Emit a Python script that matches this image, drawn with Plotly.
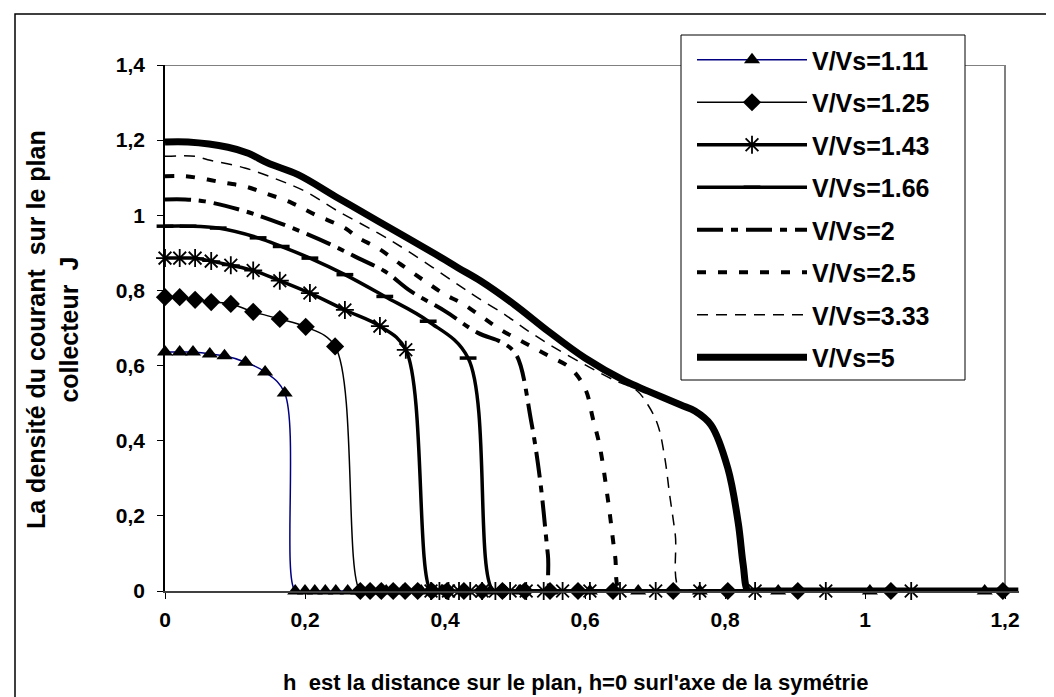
import plotly.graph_objects as go

# ---- data ----
h_111 = [0, 0.021, 0.040, 0.064, 0.085, 0.115, 0.143, 0.171, 0.186, 0.200, 0.214, 0.229, 0.244, 0.261, 0.276,
         0.295, 0.316, 0.340, 0.366, 0.395, 0.428, 0.465, 0.506, 0.552, 0.607, 0.676, 0.764, 0.876, 1.007, 1.171]
J_111 = [0.636, 0.636, 0.636, 0.631, 0.626, 0.609, 0.583, 0.527, 0, 0, 0, 0, 0, 0, 0,
         0, 0, 0, 0, 0, 0, 0, 0, 0, 0, 0, 0, 0, 0, 0]

h_125 = [0, 0.021, 0.043, 0.066, 0.094, 0.126, 0.164, 0.201, 0.243, 0.279, 0.293, 0.309, 0.326, 0.343, 0.361,
         0.381, 0.403, 0.427, 0.453, 0.482, 0.514, 0.550, 0.590, 0.640, 0.726, 0.804, 0.904, 1.037, 1.197]
J_125 = [0.782, 0.782, 0.775, 0.769, 0.764, 0.743, 0.724, 0.703, 0.651, 0, 0, 0, 0, 0, 0,
         0, 0, 0, 0, 0, 0, 0, 0, 0, 0, 0, 0, 0, 0]

h_143 = [0, 0.021, 0.043, 0.066, 0.094, 0.126, 0.164, 0.207, 0.257, 0.307, 0.344, 0.380, 0.392, 0.405, 0.420,
         0.436, 0.453, 0.472, 0.493, 0.516, 0.541, 0.568, 0.607, 0.650, 0.701, 0.764, 0.843, 0.944, 1.066]
J_143 = [0.886, 0.886, 0.886, 0.878, 0.867, 0.853, 0.826, 0.793, 0.748, 0.705, 0.642, 0, 0, 0, 0,
         0, 0, 0, 0, 0, 0, 0, 0, 0, 0, 0, 0, 0, 0]

h_166 = [0, 0.033, 0.076, 0.133, 0.166, 0.207, 0.257, 0.314, 0.376, 0.433, 0.469, 0.490, 0.512, 0.536, 0.562,
         0.592, 0.626, 0.665, 0.710, 0.762, 0.822, 0.892, 0.972, 1.064, 1.170]
J_166 = [0.971, 0.971, 0.966, 0.940, 0.917, 0.886, 0.842, 0.784, 0.718, 0.620, 0, 0, 0, 0, 0,
         0, 0, 0, 0, 0, 0, 0, 0, 0, 0]

h_2 = [0, 0.029, 0.057, 0.114, 0.151, 0.194, 0.237, 0.276, 0.314, 0.351, 0.400, 0.447, 0.483, 0.502,
       0.523, 0.536, 0.547, 0.553, 0.600, 0.800, 1.000, 1.200]
J_2 = [1.042, 1.042, 1.037, 1.011, 0.988, 0.957, 0.922, 0.886, 0.851, 0.798, 0.745, 0.687, 0.660, 0.628,
       0.453, 0.293, 0.096, 0, 0, 0, 0, 0]

h_25 = [0, 0.029, 0.061, 0.086, 0.114, 0.143, 0.181, 0.214, 0.257, 0.276, 0.304, 0.337, 0.371, 0.400,
        0.423, 0.451, 0.480, 0.514, 0.547, 0.580, 0.601, 0.611, 0.621, 0.633, 0.643, 0.651, 0.700, 0.900, 1.200]
J_25 = [1.104, 1.104, 1.095, 1.086, 1.077, 1.059, 1.033, 1.002, 0.966, 0.940, 0.913, 0.869, 0.825, 0.789,
        0.767, 0.732, 0.695, 0.660, 0.627, 0.592, 0.535, 0.461, 0.386, 0.240, 0.093, 0, 0, 0, 0]

h_333 = [0, 0.043, 0.061, 0.114, 0.161, 0.200, 0.247, 0.304, 0.351, 0.419, 0.447, 0.486, 0.519, 0.557,
         0.603, 0.643, 0.673, 0.690, 0.704, 0.714, 0.721, 0.729, 0.737, 0.800, 1.000, 1.200]
J_333 = [1.157, 1.157, 1.148, 1.126, 1.095, 1.064, 1.011, 0.953, 0.900, 0.815, 0.780, 0.735, 0.692, 0.647,
         0.599, 0.560, 0.535, 0.495, 0.442, 0.354, 0.255, 0.149, 0, 0, 0, 0]

h_5 = [0, 0.033, 0.090, 0.119, 0.147, 0.190, 0.247, 0.304, 0.386, 0.419, 0.451, 0.500, 0.547, 0.600,
       0.657, 0.690, 0.737, 0.757, 0.780, 0.804, 0.819, 0.826, 0.833, 0.843, 0.900, 1.000, 1.100, 1.219]
J_5 = [1.195, 1.195, 1.181, 1.165, 1.139, 1.108, 1.046, 0.985, 0.897, 0.860, 0.825, 0.761, 0.692, 0.620,
       0.559, 0.532, 0.495, 0.479, 0.442, 0.327, 0.180, 0.070, 0, 0, 0, 0, 0, 0]

series_names = ["V/Vs=1.11", "V/Vs=1.25", "V/Vs=1.43", "V/Vs=1.66", "V/Vs=2", "V/Vs=2.5", "V/Vs=3.33", "V/Vs=5"]

x_title = "h  est la distance sur le plan, h=0 surl'axe de la symétrie"
y_title = "La densité du courant\u00a0 sur le plan<br>collecteur\u00a0 J"

FONT = "Arial, Liberation Sans, sans-serif"

fig = go.Figure()

def add(h, J, name, color, width, dash="solid", symbol=None, msize=10, mline=0):
    mode = "lines+markers" if symbol else "lines"
    marker = None
    if symbol:
        marker = dict(symbol=symbol, size=msize, color="black",
                      line=dict(color="black", width=mline))
    fig.add_trace(go.Scatter(
        x=h, y=J, name=name, mode=mode, legendgroup=name,
        line=dict(color=color, width=width, dash=dash, shape="spline", smoothing=1.0),
        marker=marker, cliponaxis=False))

add(h_111, J_111, series_names[0], "#000080", 1.5, symbol="triangle-up", msize=14)
add(h_125, J_125, series_names[1], "black", 1.5, symbol="diamond", msize=14)
add(h_143, J_143, series_names[2], "black", 3.5, symbol="asterisk-open", msize=15, mline=1.8)
add(h_166, J_166, series_names[3], "black", 3.5, symbol="line-ew-open", msize=12, mline=3.5)
add(h_2, J_2, series_names[4], "black", 4, dash="26px,8px,7px,8px")
add(h_25, J_25, series_names[5], "black", 4, dash="9px,12px")
add(h_333, J_333, series_names[6], "black", 1.5, dash="11px,8px")
add(h_5, J_5, series_names[7], "black", 7)

W, H = 1054, 697
L, R, T, B = 157, 43, 57, 114
pw, ph = W - L - R, H - T - B

def px(X):
    return (X - L) / pw

def py(Y):
    return (H - B - Y) / ph

fig.update_layout(
    width=W, height=H, autosize=False,
    margin=dict(l=L, r=R, t=T, b=B, pad=0),
    paper_bgcolor="white", plot_bgcolor="white",
    separators=", ",
    font=dict(family=FONT, color="black"),
    showlegend=True,
    legend=dict(
        x=px(684), y=py(29), xanchor="left", yanchor="top",
        bgcolor="rgba(0,0,0,0)", borderwidth=0,
        font=dict(family=FONT, size=25, weight="bold", color="black"),
        tracegroupgap=7, itemwidth=110, maxheight=650,
    ),
)

fig.update_xaxes(
    range=[0, 1.22], tick0=0, dtick=0.2,
    showgrid=False, zeroline=False,
    showline=True, linecolor="#404040", linewidth=2,
    ticks="outside", ticklen=6, tickcolor="black", tickwidth=1,
    ticklabelstandoff=3,
    tickfont=dict(family=FONT, size=21, weight="bold", color="black"),
)
fig.update_yaxes(
    range=[0, 1.4], tick0=0, dtick=0.2,
    showgrid=False, zeroline=False,
    showline=True, linecolor="black", linewidth=1.5,
    ticks="outside", ticklen=6, tickcolor="black", tickwidth=1,
    ticklabelstandoff=8,
    tickfont=dict(family=FONT, size=21, weight="bold", color="black"),
)

# plot-area frame (top / right, grey), legend box, and outer chart border
fig.add_shape(type="line", xref="x", yref="y", x0=0, x1=1.2, y0=1.4, y1=1.4,
              line=dict(color="#808080", width=2), layer="below")
fig.add_shape(type="line", xref="x", yref="y", x0=1.2, x1=1.2, y0=0, y1=1.4,
              line=dict(color="#808080", width=2), layer="below")
fig.add_shape(type="rect", xref="paper", yref="paper",
              x0=px(673), x1=px(957), y0=py(372), y1=py(27),
              fillcolor="white", line=dict(color="black", width=1), layer="above")
fig.add_shape(type="rect", xref="paper", yref="paper",
              x0=px(7), x1=px(1045), y0=py(696), y1=py(6),
              line=dict(color="black", width=1.5))

fig.add_annotation(text=y_title, xref="paper", yref="paper",
                   x=px(45), y=py(322), xanchor="center", yanchor="middle",
                   textangle=-90, showarrow=False,
                   font=dict(family=FONT, size=25, weight="bold", color="black"))
fig.add_annotation(text=x_title, xref="paper", yref="paper",
                   x=px(567), y=py(674), xanchor="center", yanchor="middle",
                   showarrow=False,
                   font=dict(family=FONT, size=22, weight="bold", color="black"))

fig.write_html("out.html")
